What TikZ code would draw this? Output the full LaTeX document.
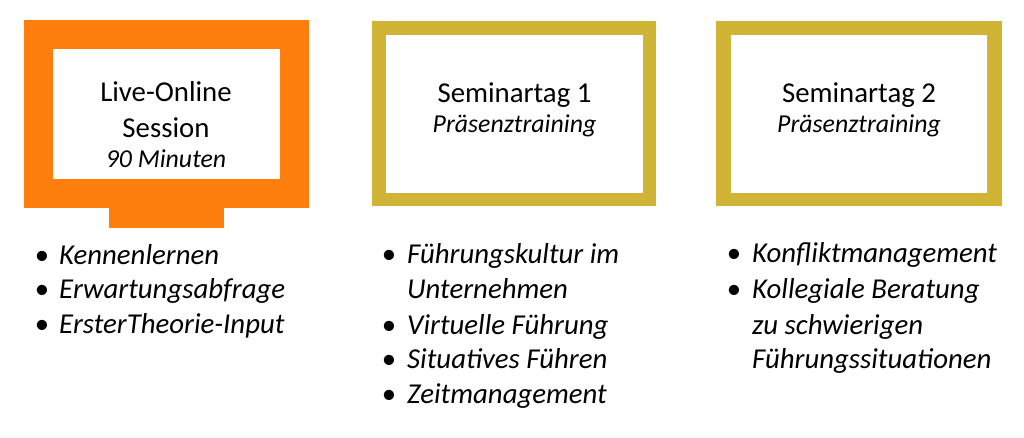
\documentclass[tikz,border=0pt]{standalone}
\usepackage{fontspec}
\setmainfont{Carlito}
\definecolor{monorange}{RGB}{255,127,14}
\definecolor{boxgold}{RGB}{207,180,54}
\begin{document}
\begin{tikzpicture}[x=1pt,y=-1pt,
  title/.style={anchor=base,inner sep=0pt,font=\fontsize{28.8}{34}\selectfont},
  subtitle/.style={anchor=base,inner sep=0pt,font=\fontsize{25.8}{30}\selectfont\itshape},
  item/.style={anchor=base west,inner sep=0pt,font=\fontsize{28.8}{34}\selectfont\itshape},
  dot/.style={anchor=base,inner sep=0pt,font=\fontsize{28.8}{34}\selectfont}]
\useasboundingbox (0,0) rectangle (1024,438);
% monitor
\fill[monorange] (24,20) rectangle (309,208);
\fill[monorange] (109,207) rectangle (224,228);
\fill[white] (53,49) rectangle (280,179);
% boxes
\fill[boxgold] (372,21) rectangle (656,206);
\fill[white] (386,35) rectangle (643,193);
\fill[boxgold] (716,21) rectangle (1002,206);
\fill[white] (731,35) rectangle (987,193);
% titles
\node[title] (t1a) at (166,102) {Live-Online};
\node[title] (t1b) at (166,138) {Session};
\node[subtitle] (t1c) at (166,168) {90 Minuten};
\node[title] (t2a) at (514.5,103) {Seminartag 1};
\node[subtitle] (t2b) at (514.5,133) {Präsenztraining};
\node[title] (t3a) at (859,103) {Seminartag 2};
\node[subtitle] (t3b) at (859,133) {Präsenztraining};
% column 1
\node[dot] (b11) at (42,264) {•};
\node[item] (i11) at (59,264) {Kennenlernen};
\node[dot] (b12) at (42,298) {•};
\node[item] (i12) at (59,298) {Erwartungsabfrage};
\node[dot] (b13) at (42,333) {•};
\node[item] (i13) at (59,333) {ErsterTheorie-Input};
% column 2
\node[dot] (b21) at (389,263) {•};
\node[item] (i21) at (407,263) {Führungskultur im};
\node[item] (i22) at (407,298) {Unternehmen};
\node[dot] (b23) at (389,334) {•};
\node[item] (i23) at (407,334) {Virtuelle Führung};
\node[dot] (b24) at (389,368) {•};
\node[item] (i24) at (407,368) {Situatives Führen};
\node[dot] (b25) at (389,403) {•};
\node[item] (i25) at (407,403) {Zeitmanagement};
% column 3
\node[dot] (b31) at (734,262) {•};
\node[item] (i31) at (752,262) {Konfliktmanagement};
\node[dot] (b32) at (734,298) {•};
\node[item] (i32) at (752,298) {Kollegiale Beratung};
\node[item] (i33) at (752,334) {zu schwierigen};
\node[item] (i34) at (752,368) {Führungssituationen};
\end{tikzpicture}
\end{document}
